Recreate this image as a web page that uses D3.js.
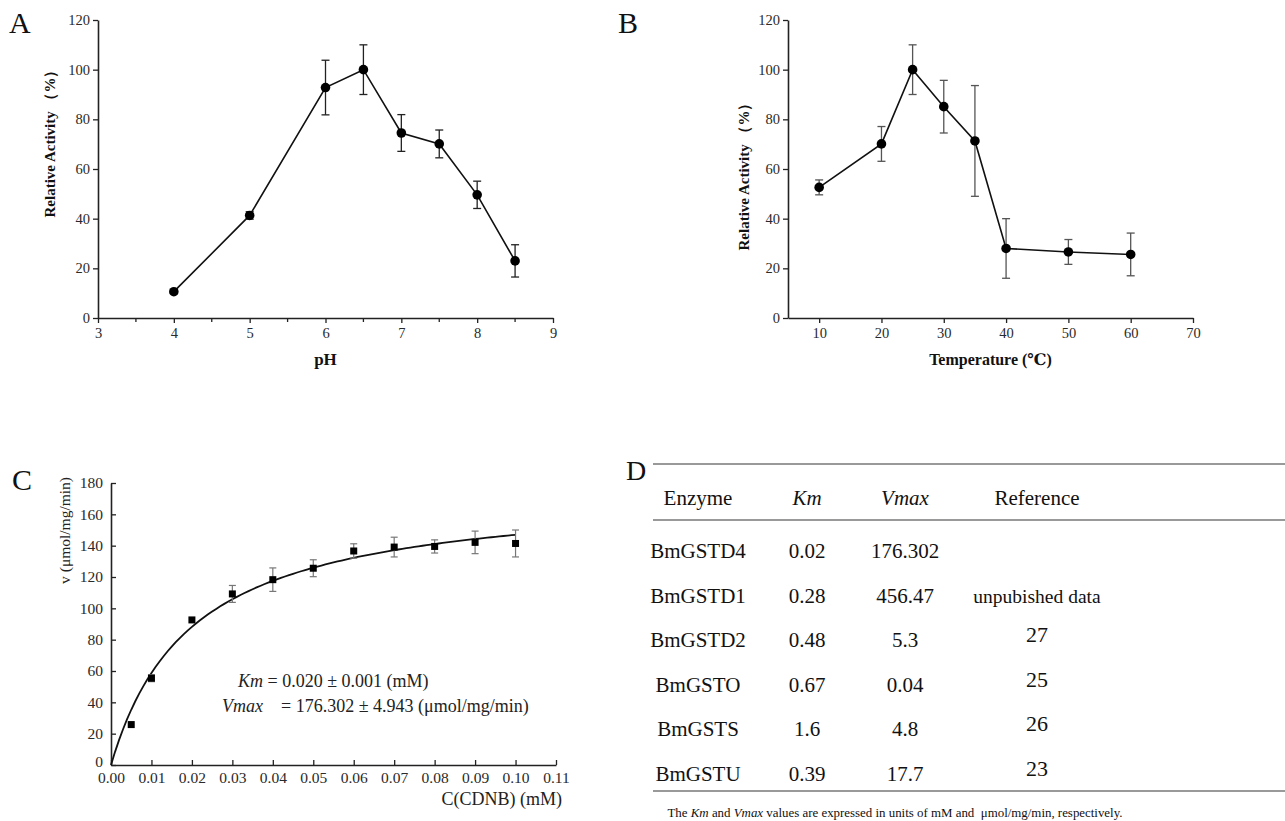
<!DOCTYPE html>
<html>
<head>
<meta charset="utf-8">
<script src="https://cdn.jsdelivr.net/npm/d3@7"></script>
<style>
  body { margin: 0; background: #fff; }
  svg { display: block; }
  svg text { font-family: "Liberation Serif", "DejaVu Serif", "Times New Roman", serif !important; fill: #222; }
</style>
</head>
<body>
<div class="chart"></div>
<script>
const serif = "'Liberation Serif', 'DejaVu Serif', 'Times New Roman', serif"

// Panel A: pH profile
const phValues = [4, 5, 6, 6.5, 7, 7.5, 8, 8.5]
const phActivity = [10.6, 41.3, 92.8, 100, 74.5, 70.1, 49.6, 23]
const phError = [0.8, 1.5, 11, 10, 7.4, 5.6, 5.5, 6.5]

// Panel B: temperature profile
const tempValues = [10, 20, 25, 30, 35, 40, 50, 60]
const tempActivity = [52.6, 70.1, 100, 85.1, 71.3, 28, 26.6, 25.6]
const tempError = [3, 7, 10, 10.6, 22.3, 12, 5, 8.6]

// Panel C: kinetics
const cdnbConc = [0, 0.005, 0.01, 0.02, 0.03, 0.04, 0.05, 0.06, 0.07, 0.08, 0.09, 0.10]
const velocity = [0, 25.8, 55.4, 92.6, 109.2, 118.3, 125.6, 136.6, 139.1, 139.5, 142.1, 141.4]
const velocityError = [0, 0, 2.2, 0, 5.4, 7.5, 5.4, 4.6, 6.3, 4.2, 7.2, 8.6]
const fitKm = 0.020
const fitVmax = 176.302

// Panel D: table
const enzymes = ["BmGSTD4", "BmGSTD1", "BmGSTD2", "BmGSTO", "BmGSTS", "BmGSTU"]
const kmValues = ["0.02", "0.28", "0.48", "0.67", "1.6", "0.39"]
const vmaxValues = ["176.302", "456.47", "5.3", "0.04", "4.8", "17.7"]
const references = ["", "unpubished data", "27", "25", "26", "23"]

const svg = d3.select(".chart")
    .append("svg")
    .attr("width", 1285)
    .attr("height", 821)
    .attr("font-family", serif)

function panelLetter(x, y, t, size) {
    svg.append("text")
        .attr("x", x).attr("y", y)
        .attr("font-size", size)
        .style("fill", "#111")
        .text(t)
}

function styleAxis(g, size) {
    g.attr("font-family", serif)
    g.select(".domain").attr("stroke", "#222").attr("stroke-width", 1.6)
    g.selectAll(".tick line").attr("stroke", "#222").attr("stroke-width", 1.3)
    g.selectAll(".tick text")
        .attr("font-size", size)
        .style("fill", "#2a2a2a")
}

function activityPanel(opts) {
    const { xDomain, xRange, xTicks, minorTicks, xs, ys, errs, xLabel, xLabelSize, yLabelX, yLabelMid, errColor } = opts
    const x = d3.scaleLinear().domain(xDomain).range(xRange)
    const y = d3.scaleLinear().domain([0, 120]).range([318, 20])

    const gx = svg.append("g")
        .attr("transform", `translate(0, ${y(0)})`)
        .call(d3.axisBottom(x).tickValues(xTicks).tickSize(5).tickPadding(5).tickSizeOuter(0).tickFormat(d3.format("d")))
    styleAxis(gx, 14.5)
    if (minorTicks.length) {
        gx.selectAll(".minor")
            .data(minorTicks)
            .join("line")
            .attr("x1", d => x(d)).attr("x2", d => x(d))
            .attr("y1", 0).attr("y2", 4)
            .attr("stroke", "#222").attr("stroke-width", 1.3)
    }

    const gy = svg.append("g")
        .attr("transform", `translate(${xRange[0]}, 0)`)
        .call(d3.axisLeft(y).tickValues(d3.range(0, 121, 20)).tickSize(5).tickPadding(3).tickSizeOuter(0))
    styleAxis(gy, 14.5)

    const pts = xs.map((d, i) => ({ x: d, y: ys[i], e: errs[i] }))

    svg.append("path")
        .datum(pts)
        .attr("fill", "none")
        .attr("stroke", "#111")
        .attr("stroke-width", 1.6)
        .attr("d", d3.line().x(d => x(d.x)).y(d => y(d.y)))

    const eb = svg.append("g").attr("stroke", errColor).attr("stroke-width", 1.3)
    eb.selectAll(".v").data(pts).join("line")
        .attr("x1", d => x(d.x)).attr("x2", d => x(d.x))
        .attr("y1", d => y(d.y - d.e)).attr("y2", d => y(d.y + d.e))
    eb.selectAll(".t").data(pts).join("line")
        .attr("x1", d => x(d.x) - 4).attr("x2", d => x(d.x) + 4)
        .attr("y1", d => y(d.y + d.e)).attr("y2", d => y(d.y + d.e))
    eb.selectAll(".b").data(pts).join("line")
        .attr("x1", d => x(d.x) - 4).attr("x2", d => x(d.x) + 4)
        .attr("y1", d => y(d.y - d.e)).attr("y2", d => y(d.y - d.e))

    svg.append("g").selectAll("circle")
        .data(pts)
        .join("circle")
        .attr("cx", d => x(d.x))
        .attr("cy", d => y(d.y))
        .attr("r", 4.8)
        .attr("fill", "#000")

    svg.append("text")
        .attr("x", (xRange[0] + xRange[1]) / 2)
        .attr("y", 365)
        .attr("text-anchor", "middle")
        .attr("font-size", xLabelSize)
        .attr("font-weight", "bold")
        .style("fill", "#111")
        .text(xLabel)

    svg.append("text")
        .attr("transform", `translate(${yLabelX}, ${yLabelMid}) rotate(-90)`)
        .attr("text-anchor", "middle")
        .attr("font-size", 15)
        .attr("font-weight", "bold")
        .style("fill", "#111")
        .text("Relative Activity （%）")
}

// A
panelLetter(9, 33, "A", 30)
activityPanel({
    xDomain: [3, 9], xRange: [98, 553], xTicks: d3.range(3, 10, 1), minorTicks: d3.range(3.5, 9, 1),
    xs: phValues, ys: phActivity, errs: phError,
    xLabel: "pH", xLabelSize: 17, yLabelX: 55, yLabelMid: 140, errColor: "#222"
})

// B
panelLetter(618, 33, "B", 30)
activityPanel({
    xDomain: [5, 70], xRange: [788, 1193], xTicks: d3.range(10, 71, 10), minorTicks: [],
    xs: tempValues, ys: tempActivity, errs: tempError,
    xLabel: "Temperature (℃)", xLabelSize: 16, yLabelX: 749, yLabelMid: 173, errColor: "#555"
})

// C
panelLetter(12, 490, "C", 30)
{
    const x = d3.scaleLinear().domain([0, 0.11]).range([111, 556])
    const y = d3.scaleLinear().domain([0, 180]).range([765, 483])

    const gx = svg.append("g")
        .attr("transform", `translate(0, ${y(0)})`)
        .call(d3.axisBottom(x).tickValues(d3.range(0, 12).map(i => i / 100)).tickSize(-5).tickPadding(7).tickSizeOuter(0).tickFormat(d3.format(".2f")))
    styleAxis(gx, 15.5)
    const gy = svg.append("g")
        .attr("transform", `translate(${x(0)}, 0)`)
        .call(d3.axisLeft(y).tickValues(d3.range(0, 181, 20)).tickSize(-5).tickPadding(8).tickSizeOuter(0))
    styleAxis(gy, 15.5)
    gy.selectAll(".tick text").filter(d => d === 0).attr("dy", "0.1em")

    // Michaelis-Menten fit drawn from the reported Km and Vmax
    const fitX = d3.range(0, 101).map(i => i * 0.001)
    svg.append("path")
        .datum(fitX)
        .attr("fill", "none")
        .attr("stroke", "#111")
        .attr("stroke-width", 1.8)
        .attr("d", d3.line().x(d => x(d)).y(d => y(fitVmax * d / (fitKm + d))))

    const pts = cdnbConc.map((d, i) => ({ x: d, y: velocity[i], e: velocityError[i] }))
        .filter(d => d.x > 0)
    const eb = svg.append("g").attr("stroke", "#777").attr("stroke-width", 1.2)
    const withErr = pts.filter(d => d.e > 0)
    eb.selectAll(".v").data(withErr).join("line")
        .attr("x1", d => x(d.x)).attr("x2", d => x(d.x))
        .attr("y1", d => y(d.y - d.e)).attr("y2", d => y(d.y + d.e))
    eb.selectAll(".t").data(withErr).join("line")
        .attr("x1", d => x(d.x) - 3.5).attr("x2", d => x(d.x) + 3.5)
        .attr("y1", d => y(d.y + d.e)).attr("y2", d => y(d.y + d.e))
    eb.selectAll(".b").data(withErr).join("line")
        .attr("x1", d => x(d.x) - 3.5).attr("x2", d => x(d.x) + 3.5)
        .attr("y1", d => y(d.y - d.e)).attr("y2", d => y(d.y - d.e))

    svg.append("g").selectAll("rect")
        .data(pts)
        .join("rect")
        .attr("x", d => x(d.x) - 3.5)
        .attr("y", d => y(d.y) - 3.5)
        .attr("width", 7)
        .attr("height", 7)
        .attr("fill", "#000")

    svg.append("text")
        .attr("transform", `translate(70, 477) rotate(-90)`)
        .attr("text-anchor", "end")
        .attr("font-size", 15.5)
        .style("fill", "#222")
        .text("v (μmol/mg/min)")

    svg.append("text")
        .attr("x", 562).attr("y", 805)
        .attr("text-anchor", "end")
        .attr("font-size", 18)
        .style("fill", "#222")
        .text("C(CDNB) (mM)")

    const kmT = svg.append("text").attr("x", 238).attr("y", 687).attr("font-size", 18)
        .style("white-space", "pre")
    kmT.append("tspan").attr("font-style", "italic").text("Km")
    kmT.append("tspan").text(` = ${fitKm.toFixed(3)} ± 0.001 (mM)`)
    const vT = svg.append("text").attr("x", 222).attr("y", 712).attr("font-size", 18)
        .style("white-space", "pre")
    vT.append("tspan").attr("font-style", "italic").text("Vmax")
    vT.append("tspan").text(`    = ${fitVmax} ± 4.943 (μmol/mg/min)`)
}

// D: table
panelLetter(626, 480, "D", 28)
{
    const colX = [698, 807, 905, 1037]
    const rowY = d3.scaleLinear().domain([0, 5]).range([558, 781])
    const lineColor = "#777"

    ;[464, 520, 791].forEach(yy => {
        svg.append("line")
            .attr("x1", 653).attr("x2", 1285)
            .attr("y1", yy).attr("y2", yy)
            .attr("stroke", lineColor)
            .attr("stroke-width", 1.6)
    })

    const headers = [["Enzyme", false], ["Km", true], ["Vmax", true], ["Reference", false]]
    headers.forEach((h, i) => {
        svg.append("text")
            .attr("x", colX[i]).attr("y", 505)
            .attr("text-anchor", "middle")
            .attr("font-size", 21)
            .attr("font-style", h[1] ? "italic" : "normal")
            .style("fill", "#111")
            .text(h[0])
    })

    const rows = enzymes.map((e, i) => [e, kmValues[i], vmaxValues[i], references[i]])
    rows.forEach((r, i) => {
        r.forEach((cell, j) => {
            svg.append("text")
                .attr("x", colX[j])
                .attr("y", rowY(i) - (j === 3 && i > 1 ? 5 : 0))
                .attr("text-anchor", "middle")
                .attr("font-size", j === 3 && i > 1 ? 22 : (j === 3 ? 19.5 : 21))
                .style("fill", "#111")
                .text(cell)
        })
    })

    const note = svg.append("text")
        .attr("x", 895).attr("y", 817)
        .attr("text-anchor", "middle")
        .attr("font-size", 12.9)
        .style("fill", "#111")
        .style("white-space", "pre")
    note.append("tspan").text("The ")
    note.append("tspan").attr("font-style", "italic").text("Km")
    note.append("tspan").text(" and ")
    note.append("tspan").attr("font-style", "italic").text("Vmax")
    note.append("tspan").text(" values are expressed in units of mM and  μmol/mg/min, respectively.")
}
</script>
</body>
</html>
